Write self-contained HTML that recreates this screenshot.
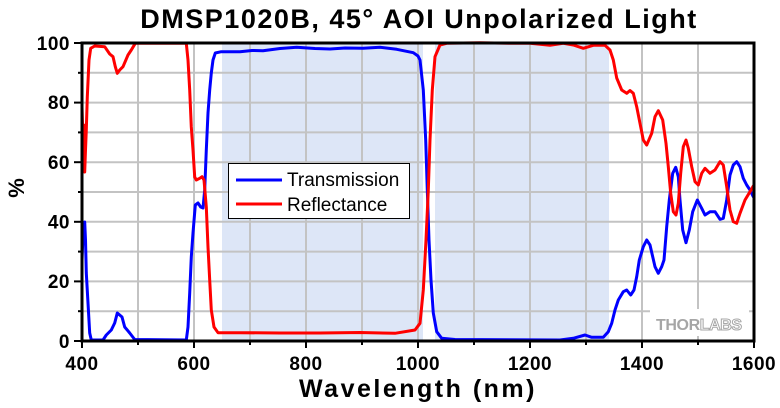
<!DOCTYPE html>
<html>
<head>
<meta charset="utf-8">
<style>
html,body{margin:0;padding:0;background:#fff;}
svg{display:block;}
text{font-family:"Liberation Sans",Arial,sans-serif;}
</style>
</head>
<body>
<svg width="780" height="408" viewBox="0 0 780 408" xmlns="http://www.w3.org/2000/svg">
<rect x="0" y="0" width="780" height="408" fill="#fff"/>
<!-- shaded regions -->
<rect x="222" y="43" width="201" height="298" fill="#dde6f7"/>
<rect x="435" y="43" width="174" height="298" fill="#dde6f7"/>
<!-- grid -->
<g stroke="#c3c3c3" stroke-width="2">
<line x1="138" y1="43" x2="138" y2="341"/>
<line x1="194" y1="43" x2="194" y2="341"/>
<line x1="250" y1="43" x2="250" y2="341"/>
<line x1="306" y1="43" x2="306" y2="341"/>
<line x1="362" y1="43" x2="362" y2="341"/>
<line x1="418" y1="43" x2="418" y2="341"/>
<line x1="474" y1="43" x2="474" y2="341"/>
<line x1="530" y1="43" x2="530" y2="341"/>
<line x1="586" y1="43" x2="586" y2="341"/>
<line x1="642" y1="43" x2="642" y2="341"/>
<line x1="698" y1="43" x2="698" y2="341"/>
<line x1="82" y1="311.2" x2="754" y2="311.2"/>
<line x1="82" y1="281.4" x2="754" y2="281.4"/>
<line x1="82" y1="251.6" x2="754" y2="251.6"/>
<line x1="82" y1="221.8" x2="754" y2="221.8"/>
<line x1="82" y1="192" x2="754" y2="192"/>
<line x1="82" y1="162.2" x2="754" y2="162.2"/>
<line x1="82" y1="132.4" x2="754" y2="132.4"/>
<line x1="82" y1="102.6" x2="754" y2="102.6"/>
<line x1="82" y1="72.8" x2="754" y2="72.8"/>
</g>
<!-- logo -->
<rect x="650" y="309" width="99" height="27" fill="#fff"/>
<text x="656" y="330" font-size="16" font-weight="bold" letter-spacing="-0.4"><tspan fill="#a6a6a6">THOR</tspan><tspan fill="#fff" stroke="#a6a6a6" stroke-width="1">LABS</tspan></text>
<!-- curves -->
<defs><clipPath id="pc"><rect x="82" y="41" width="672" height="300"/></clipPath></defs>
<g clip-path="url(#pc)" fill="none" stroke-width="3" stroke-linejoin="round" stroke-linecap="round">
<polyline stroke="#0000ff" points="82,260 83,235 84.7,222 85.5,240 86.3,273 88,303 89.7,333 91.3,340 103,340 106.3,335 111.3,330 114.7,323 117.3,313 119.7,315 122,317 124.7,327 129.7,333 134.7,339.5 186.3,340 188,327 189.7,293 191.3,257 193,233 195.3,205 198,203 200.7,207 203,208 204.7,190 206.3,150 208,113 209.7,90 211.3,73 213,60 215.3,53 221.3,51.7 240,51.7 252,50.5 263,50.7 280,48.5 296.7,47.3 315,48.5 330,49 345,48 363,48.3 380,47.3 396.7,49.3 413.3,52.7 418,56 420,60 423.3,90 425.7,140 427.3,190 429,240 431,280 433.3,313 436.7,331.7 441.7,338.3 455,339.5 560,340 573.3,338.3 585,335 591.7,337.3 603.3,337.3 608.3,331.7 611.7,323.3 615,310 618.3,300 623.3,291.7 626.7,290 630.7,295 634,290 636.7,276.7 639.3,260 643.3,246.7 646.7,240 650,245 655,266.7 658.3,273.3 661.7,266.7 664,260 666.7,226.7 669.3,200 672.7,173.3 675.7,167.3 678.3,176.7 680,200 682.7,230 686,242.7 689.3,230 692.7,211.7 697.3,200 701.7,208.3 705,215 710,211.7 715,211.7 720,219.3 723.3,218.3 726.7,200 730,175 733.3,165 736.7,161.7 740,166.7 743.3,178.3 746.7,185 750,190 753.3,196.7 756,200"/>
<polyline stroke="#ff0000" points="82,107 83,140 83.7,125 84.3,165 84.7,172 85.5,150 86.3,130 87.3,97 89,60 90.7,48.3 94.7,46 104.7,46.7 109.7,54 113,56.7 115.3,66.7 117.3,73.3 119.7,70 123,66.7 128,55 131.3,50 135.3,43.3 186.3,43.3 188,60 189.7,90 191.3,127 193,150 194.7,177 196.3,180 199.7,178.3 202,176.7 204,180 206.3,207 208,247 209.7,280 211.3,310 214,327 218,332.7 240,332.7 280,333 320,333 360,332.5 395,333.3 415,330 420,323.3 423.3,290 426,240 428.3,190 430,140 432.3,90 435,56.7 440,45 446.7,43.3 480,42.7 513.3,43.3 530,43.3 550,45.3 563.3,43.3 573.3,45 583.3,48.3 593.3,45.3 605,45.3 610,50 613.3,60 616.7,78 621.7,90 626.7,93.3 630,90.5 633.3,93.3 636.7,106.7 640,123.3 643.3,140 646.7,145 651.7,133.3 655,116.7 658.3,110.7 662.7,120 666,143.3 668.3,166.7 670.7,193.3 673.3,211.7 676,215 678.3,203.3 680.7,173.3 683.3,146.7 686,140 688.3,148.3 691.7,166.7 695,181.7 698.3,185 701.7,173.3 705,168.3 710,173.3 715,170 720,161.7 723.3,165 726.7,186.7 730,210 733.3,221.7 736.7,223.3 740,213.3 745,200 750,191.7 753.3,186 756,183"/>
</g>
<!-- legend -->
<rect x="228.5" y="163.5" width="181" height="55" fill="#fff" stroke="#000" stroke-width="1"/>
<line x1="236" y1="180" x2="282" y2="180" stroke="#0000ff" stroke-width="3"/>
<line x1="236" y1="204" x2="282" y2="204" stroke="#ff0000" stroke-width="3"/>
<text x="287" y="186" font-size="19" fill="#000">Transmission</text>
<text x="287" y="211" font-size="19" fill="#000">Reflectance</text>
<!-- axes frame -->
<rect x="82" y="43" width="672" height="298" fill="none" stroke="#000" stroke-width="3"/>
<!-- ticks -->
<g stroke="#000" stroke-width="2">
<line x1="74" y1="43" x2="82" y2="43"/>
<line x1="74" y1="102.6" x2="82" y2="102.6"/>
<line x1="74" y1="162.2" x2="82" y2="162.2"/>
<line x1="74" y1="221.8" x2="82" y2="221.8"/>
<line x1="74" y1="281.4" x2="82" y2="281.4"/>
<line x1="74" y1="341" x2="82" y2="341"/>
<line x1="78" y1="72.8" x2="82" y2="72.8"/>
<line x1="78" y1="132.4" x2="82" y2="132.4"/>
<line x1="78" y1="192" x2="82" y2="192"/>
<line x1="78" y1="251.6" x2="82" y2="251.6"/>
<line x1="78" y1="311.2" x2="82" y2="311.2"/>
<line x1="82" y1="341" x2="82" y2="348"/>
<line x1="194" y1="341" x2="194" y2="348"/>
<line x1="306" y1="341" x2="306" y2="348"/>
<line x1="418" y1="341" x2="418" y2="348"/>
<line x1="530" y1="341" x2="530" y2="348"/>
<line x1="642" y1="341" x2="642" y2="348"/>
<line x1="754" y1="341" x2="754" y2="348"/>
<line x1="138" y1="341" x2="138" y2="345"/>
<line x1="250" y1="341" x2="250" y2="345"/>
<line x1="362" y1="341" x2="362" y2="345"/>
<line x1="474" y1="341" x2="474" y2="345"/>
<line x1="586" y1="341" x2="586" y2="345"/>
<line x1="698" y1="341" x2="698" y2="345"/>
</g>
<!-- y tick labels -->
<g font-size="19" font-weight="bold" fill="#000" text-anchor="end" letter-spacing="0.5">
<text x="70" y="50">100</text>
<text x="70" y="109">80</text>
<text x="70" y="169">60</text>
<text x="70" y="228.5">40</text>
<text x="70" y="288">20</text>
<text x="70" y="348">0</text>
</g>
<!-- x tick labels -->
<g font-size="19" font-weight="bold" fill="#000" text-anchor="middle" letter-spacing="0.5">
<text x="82" y="370">400</text>
<text x="194" y="370">600</text>
<text x="306" y="370">800</text>
<text x="418" y="370">1000</text>
<text x="530" y="370">1200</text>
<text x="642" y="370">1400</text>
<text x="754" y="370">1600</text>
</g>
<!-- axis titles -->
<text x="418" y="397" font-size="25" font-weight="bold" fill="#000" text-anchor="middle" letter-spacing="2.5">Wavelength (nm)</text>
<text transform="translate(24,188) rotate(-90)" font-size="22" font-weight="bold" fill="#000" text-anchor="middle">%</text>
<!-- title -->
<text x="419" y="28" font-size="27" font-weight="bold" fill="#000" text-anchor="middle" letter-spacing="1.5">DMSP1020B, 45° AOI Unpolarized Light</text>
</svg>
</body>
</html>
